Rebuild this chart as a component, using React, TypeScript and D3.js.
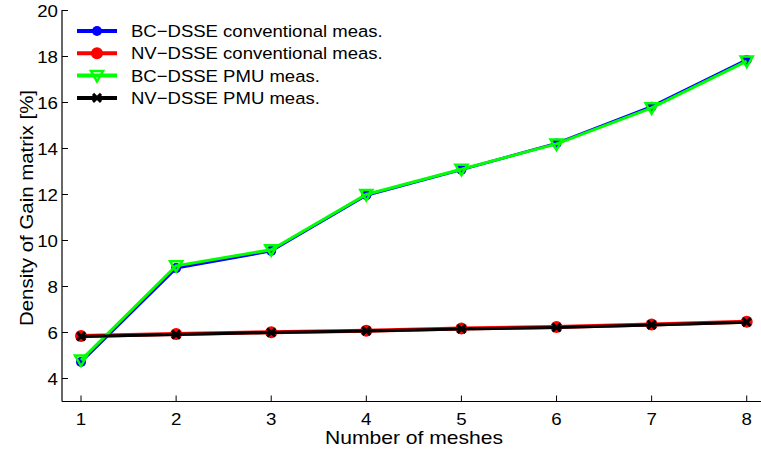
import React from "react";
import * as d3 from "d3";

const meshes = [1, 2, 3, 4, 5, 6, 7, 8];
const bcConventional = [4.72, 8.8, 9.55, 11.97, 13.08, 14.22, 15.82, 17.85];
const nvConventional = [5.85, 5.93, 6.01, 6.08, 6.17, 6.24, 6.35, 6.47];
const bcPmu = [4.8, 8.9, 9.6, 12.0, 13.1, 14.2, 15.77, 17.8];
const nvPmu = [5.83, 5.91, 6.0, 6.07, 6.15, 6.22, 6.33, 6.45];
const yTicks = [4, 6, 8, 10, 12, 14, 16, 18, 20];

const seriesNames = [
  "BC\u2212DSSE conventional meas.",
  "NV\u2212DSSE conventional meas.",
  "BC\u2212DSSE PMU meas.",
  "NV\u2212DSSE PMU meas.",
];

type Marker = "circle" | "triangle" | "cross";
const series: { name: string; values: number[]; color: string; width: number; marker: Marker; r: number }[] = [
  { name: seriesNames[0], values: bcConventional, color: "#0000ff", width: 3, marker: "circle", r: 5 },
  { name: seriesNames[1], values: nvConventional, color: "#ff0000", width: 4, marker: "circle", r: 6 },
  { name: seriesNames[2], values: bcPmu, color: "#00ff00", width: 3, marker: "triangle", r: 6 },
  { name: seriesNames[3], values: nvPmu, color: "#000000", width: 3, marker: "cross", r: 4 },
];

const W = 761;
const H = 450;
const left = 62;
const bottom = 401.5;
const font = "Liberation Sans, Arial, Helvetica, sans-serif";

const x = d3.scaleLinear().domain([0.8, 8.2]).range([left, left + 7.4 * 95.1]);
const y = d3.scaleLinear().domain([3, 20]).range([bottom, bottom - 17 * 23]);

function MarkerShape({ m, cx, cy, color, r }: { m: Marker; cx: number; cy: number; color: string; r: number }) {
  if (m === "circle") return <circle cx={cx} cy={cy} r={r} fill={color} />;
  if (m === "triangle") {
    return (
      <path
        d={`M${cx - r},${cy - r * 0.75}L${cx + r},${cy - r * 0.75}L${cx},${cy + r}Z`}
        fill="none"
        stroke={color}
        strokeWidth={2.5}
      />
    );
  }
  return (
    <path
      d={`M${cx - r},${cy - r}L${cx + r},${cy + r}M${cx - r},${cy + r}L${cx + r},${cy - r}`}
      stroke={color}
      strokeWidth={3}
    />
  );
}

export default function App() {
  const line = d3
    .line<number>()
    .x((_, i) => x(meshes[i]))
    .y((v) => y(v));

  return (
    <svg width={W} height={H} style={{ position: "absolute", left: 0, top: 0, background: "#fff" }}>
      {/* axes */}
      <line x1={left} x2={W} y1={bottom} y2={bottom} stroke="#000" strokeWidth={1.2} />
      <line x1={left} x2={left} y1={y(20) - 0.5} y2={bottom} stroke="#000" strokeWidth={1.2} />
      {meshes.map((m) => (
        <g key={"xt" + m}>
          <line x1={x(m)} x2={x(m)} y1={bottom} y2={bottom - 6} stroke="#000" />
          <text
            transform={`translate(${x(m)},${bottom + 23}) scale(1.1,1)`}
            textAnchor="middle"
            fontSize={17}
            fontFamily={font}
          >
            {m}
          </text>
        </g>
      ))}
      {yTicks.map((t) => (
        <g key={"yt" + t}>
          <line x1={left} x2={left + 6} y1={y(t)} y2={y(t)} stroke="#000" />
          <text
            transform={`translate(${left - 4},${y(t) + 6.5}) scale(1.1,1)`}
            textAnchor="end"
            fontSize={17}
            fontFamily={font}
          >
            {t}
          </text>
        </g>
      ))}
      <text
        x={414}
        y={444}
        textAnchor="middle"
        fontSize={18.5}
        fontFamily={font}
        textLength={178}
        lengthAdjust="spacingAndGlyphs"
      >
        Number of meshes
      </text>
      <text
        transform={`translate(33,208) rotate(-90)`}
        textAnchor="middle"
        fontSize={18}
        fontFamily={font}
        textLength={236}
        lengthAdjust="spacingAndGlyphs"
      >
        Density of Gain matrix [%]
      </text>

      {/* series */}
      {series.map((s) => (
        <g key={s.name}>
          <path d={line(s.values) || ""} fill="none" stroke={s.color} strokeWidth={s.width} />
          {s.values.map((v, i) => (
            <MarkerShape key={i} m={s.marker} cx={x(meshes[i])} cy={y(v)} color={s.color} r={s.r} />
          ))}
        </g>
      ))}

      {/* legend */}
      {series.map((s, i) => {
        const ly = 31 + i * 22.3;
        return (
          <g key={"lg" + i}>
            <line x1={77} x2={117} y1={ly} y2={ly} stroke={s.color} strokeWidth={4} />
            <MarkerShape m={s.marker} cx={97} cy={ly} color={s.color} r={s.r} />
            <text
              transform={`translate(131,${ly + 6}) scale(1.11,1)`}
              fontSize={16.7}
              fontFamily={font}
            >
              {s.name}
            </text>
          </g>
        );
      })}
    </svg>
  );
}
